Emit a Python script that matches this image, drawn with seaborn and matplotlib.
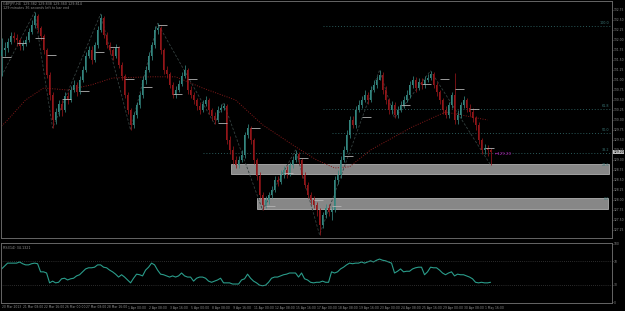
"""
H4 candle chart with zigzag, MA, zones and RSI sub-window (MT4 style)
"""
import numpy as np
import pandas as pd
import matplotlib
matplotlib.use('Agg')
import matplotlib.pyplot as plt
from matplotlib.patches import Rectangle
import seaborn as sns

# --- price data (one value per H4 bar) ---
first_open = 131.60
closes = [131.75, 131.80, 131.95, 132.10, 132.05, 132.00, 131.85, 131.90, 132.00, 132.20,
          132.38, 132.60, 132.30, 132.10, 131.75, 131.13, 130.63, 130.00, 130.20, 130.40,
          130.25, 130.60, 130.50, 130.75, 130.88, 130.70, 131.00, 131.25, 131.60, 131.75,
          131.50, 131.88, 132.25, 132.55, 132.13, 131.88, 131.75, 131.60, 131.80, 131.38,
          131.10, 130.63, 130.25, 129.88, 130.13, 130.38, 130.63, 131.00, 131.25, 131.60,
          131.88, 132.25, 132.30, 131.75, 131.25, 131.15, 130.88, 130.63, 130.75, 130.90,
          131.10, 131.25, 130.75, 130.63, 130.50, 130.35, 130.25, 130.40, 130.50, 130.25,
          130.10, 130.00, 130.25, 130.30, 130.35, 129.50, 129.25, 129.00, 128.88, 129.00,
          129.13, 129.63, 129.80, 129.50, 129.00, 128.60, 128.13, 127.88, 128.00, 128.13,
          128.25, 128.50, 128.45, 128.63, 128.75, 128.63, 128.88, 129.00, 129.15, 129.00,
          128.63, 128.38, 128.13, 128.00, 127.88, 127.75, 127.38, 127.63, 127.80, 127.70,
          127.75, 128.50, 128.63, 129.00, 129.25, 129.63, 130.00, 129.88, 130.25, 130.38,
          130.50, 130.63, 130.50, 130.75, 130.88, 131.00, 131.13, 130.75, 130.50, 130.25,
          130.38, 130.13, 130.25, 130.38, 130.50, 130.63, 130.88, 131.00, 130.80, 130.95,
          130.88, 131.00, 131.05, 131.15, 130.88, 130.70, 130.50, 130.25, 130.13, 130.38,
          130.63, 130.00, 130.13, 130.38, 130.50, 130.30, 130.20, 130.05, 129.88, 129.50,
          129.25, 129.30, 129.25, 129.20]
highs = [132.05, 131.95, 132.05, 132.20, 132.20, 132.15, 132.05, 132.00, 132.10, 132.30,
         132.50, 132.70, 132.65, 132.35, 132.15, 131.80, 131.20, 130.70, 130.30, 130.50,
         130.50, 130.70, 130.70, 130.85, 131.00, 130.95, 131.10, 131.35, 131.70, 131.85,
         131.85, 131.95, 132.35, 132.65, 132.60, 132.20, 131.95, 131.80, 131.90, 131.85,
         131.45, 131.15, 130.70, 130.30, 130.20, 130.45, 130.70, 131.10, 131.35, 131.70,
         131.95, 132.35, 132.42, 132.35, 131.80, 131.35, 131.20, 130.95, 130.85, 131.00,
         131.20, 131.38, 131.30, 130.85, 130.70, 130.55, 130.45, 130.50, 130.60, 130.55,
         130.30, 130.20, 130.35, 130.40, 130.43, 130.40, 129.60, 129.35, 129.10, 129.10,
         129.25, 129.70, 129.90, 129.85, 129.55, 129.05, 128.70, 128.20, 128.10, 128.20,
         128.35, 128.60, 128.60, 128.75, 128.85, 128.85, 128.95, 129.10, 129.25, 129.20,
         129.05, 128.70, 128.45, 128.20, 128.10, 127.95, 127.80, 127.70, 127.90, 127.90,
         127.85, 128.60, 128.75, 129.10, 129.35, 129.75, 130.10, 130.10, 130.35, 130.50,
         130.60, 130.75, 130.70, 130.85, 131.00, 131.10, 131.25, 131.20, 130.85, 130.55,
         130.48, 130.45, 130.35, 130.48, 130.60, 130.75, 130.98, 131.10, 131.08, 131.05,
         131.05, 131.10, 131.15, 131.23, 131.20, 130.95, 130.75, 130.55, 130.35, 130.45,
         130.70, 131.18, 130.25, 130.45, 130.60, 130.55, 130.40, 130.30, 130.10, 129.95,
         129.55, 129.40, 129.38, 129.30]
lows = [131.10, 131.60, 131.70, 131.90, 131.95, 131.85, 131.75, 131.75, 131.85, 131.95,
        132.15, 132.30, 132.20, 132.00, 131.65, 131.05, 130.50, 129.80, 129.90, 130.10,
        130.10, 130.20, 130.40, 130.45, 130.70, 130.60, 130.65, 130.95, 131.20, 131.55,
        131.40, 131.45, 131.80, 132.20, 132.05, 131.80, 131.65, 131.50, 131.55, 131.30,
        131.00, 130.55, 130.15, 129.75, 129.80, 130.05, 130.30, 130.55, 130.90, 131.20,
        131.50, 131.80, 132.15, 131.65, 131.15, 131.05, 130.80, 130.55, 130.55, 130.70,
        130.85, 131.05, 130.65, 130.55, 130.40, 130.25, 130.15, 130.20, 130.35, 130.15,
        130.00, 129.90, 129.95, 130.20, 130.25, 129.40, 129.15, 128.90, 128.80, 128.80,
        128.95, 129.05, 129.55, 129.40, 128.90, 128.50, 128.05, 127.75, 127.80, 127.90,
        128.05, 128.20, 128.35, 128.40, 128.55, 128.55, 128.60, 128.80, 128.95, 128.90,
        128.55, 128.30, 128.05, 127.90, 127.80, 127.60, 127.13, 127.30, 127.55, 127.60,
        127.50, 127.70, 128.40, 128.55, 128.95, 129.20, 129.55, 129.80, 129.80, 130.20,
        130.30, 130.45, 130.40, 130.45, 130.70, 130.80, 131.00, 130.65, 130.40, 130.15,
        130.15, 130.05, 130.05, 130.20, 130.30, 130.45, 130.55, 130.80, 130.70, 130.75,
        130.78, 130.80, 130.95, 131.00, 130.80, 130.60, 130.40, 130.15, 130.05, 130.05,
        130.30, 129.90, 129.90, 130.05, 130.30, 130.20, 130.10, 129.95, 129.75, 129.40,
        129.15, 129.15, 129.10, 128.88]

# RSI(14) values per bar
rsi = [57, 62, 67, 67, 67, 67, 69, 66, 64, 64,
       66, 67, 66, 52, 52, 50, 33, 36, 33, 34,
       40, 41, 38, 40, 41, 45, 47, 52, 57, 59,
       59, 60, 64, 64, 60, 59, 55, 52, 48, 43,
       47, 43, 38, 33, 41, 48, 47, 45, 55, 60,
       67, 64, 55, 48, 47, 45, 43, 45, 43, 45,
       50, 45, 43, 43, 36, 41, 43, 43, 41, 36,
       34, 36, 38, 41, 33, 33, 33, 31, 31, 31,
       38, 40, 48, 41, 36, 33, 29, 28, 29, 34,
       41, 43, 43, 45, 47, 48, 50, 50, 50, 43,
       50, 40, 38, 34, 33, 34, 34, 36, 34, 34,
       52, 50, 52, 57, 60, 64, 67, 66, 67, 67,
       69, 67, 69, 71, 69, 72, 74, 72, 71, 69,
       67, 50, 53, 57, 52, 53, 53, 57, 59, 60,
       60, 47, 52, 60, 59, 59, 55, 50, 47, 50,
       52, 45, 48, 47, 47, 45, 43, 40, 34, 33,
       34, 33, 33, 34]

# moving average (dotted red), read at a few bars
ma_idx = [0, 2, 8, 14, 22, 30, 37, 50, 58, 67, 78, 87, 98, 105, 111, 116, 123, 137, 148, 162]
ma_val = [129.85, 130.00, 130.50, 130.80, 130.75, 130.88, 131.05, 131.08, 131.08, 130.80,
          130.50, 129.88, 129.33, 129.00, 128.80, 128.83, 129.25, 129.83, 130.20, 130.00]

# zigzag swing points
zz_idx = [0, 11, 17, 33, 43, 52, 71, 74, 87, 98, 106, 126, 131, 143, 163]
zz_val = [131.10, 132.70, 129.80, 132.65, 129.75, 132.42, 129.90, 130.43, 127.75, 129.25,
          127.13, 131.25, 130.05, 131.23, 128.88]

# short white level tags
tag_idx = [0, 5, 11, 15, 20, 26, 31, 36, 41, 47, 52, 57, 62, 72, 83, 88, 94, 99, 104,
           110, 114, 120, 133, 140, 146, 151, 156, 161]
tag_val = [131.58, 131.93, 132.05, 131.63, 130.53, 130.73, 131.70, 131.83, 131.03, 130.83,
           132.38, 130.65, 131.03, 129.93, 129.80, 127.85, 128.68, 129.05, 128.00,
           127.85, 129.10, 130.08, 130.38, 130.90, 131.03, 130.78, 130.28, 129.30]

# grey supply/demand zones
zone_x0 = [76.5, 85.2]
zone_x1 = [202.5, 202.0]
zone_lo = [128.65, 127.78]
zone_hi = [128.90, 128.05]

# fib levels
fib_val = [132.35, 130.28, 129.68, 129.18]
fib_start = [107, 107, 110, 67]
fib_lab = ['100.0', '61.8', '50.0', '38.2']
zone_lab = ['23.6', '0.0']

price_ticks = [127.25, 127.50, 127.75, 128.00, 128.25, 128.50, 128.75, 129.00,
               129.25, 129.50, 129.75, 130.00, 130.25, 130.50, 130.75, 131.00,
               131.25, 131.50, 131.75, 132.00, 132.25, 132.50, 132.75]
time_labels = ['20 Mar 2013', '21 Mar 08:00', '22 Mar 16:00', '26 Mar 00:00', '27 Mar 08:00',
               '28 Mar 16:00', '1 Apr 00:00', '2 Apr 08:00', '3 Apr 16:00', '5 Apr 00:00',
               '8 Apr 08:00', '9 Apr 16:00', '11 Apr 00:00', '12 Apr 08:00', '15 Apr 16:00',
               '17 Apr 00:00', '18 Apr 08:00', '19 Apr 16:00', '23 Apr 00:00', '24 Apr 08:00',
               '25 Apr 16:00', '29 Apr 00:00', '30 Apr 08:00', '1 May 16:00']
rsi_levels = [70, 30]

sns.set_style('dark', {'axes.facecolor': 'black', 'figure.facecolor': 'black'})
plt.rcParams['font.family'] = ['DejaVu Sans']

txt = '#8e8e8e'
frame = '#666666'
bull = '#34867f'
bear = '#931619'
small = 2.4
axis_fs = 2.2

df = pd.DataFrame({'bar': np.arange(len(closes)), 'close': closes, 'high': highs,
                   'low': lows, 'rsi': rsi})
df['open'] = [first_open] + closes[:-1]

fig = plt.figure(figsize=(6.25, 3.11), dpi=100, facecolor='black')
ax = fig.add_axes([1 / 625, 73 / 311, 611 / 625, 237 / 311])
ax2 = fig.add_axes([1 / 625, 8 / 311, 611 / 625, 60 / 311])

# zones first so candles sit on top
for x0, x1, lo, hi in zip(zone_x0, zone_x1, zone_lo, zone_hi):
    ax.add_patch(Rectangle((x0, lo), x1 - x0, hi - lo, facecolor='#878787',
                           edgecolor='#b0b0b0', lw=0.6, zorder=1))

# fib lines
for v, s, lab in zip(fib_val, fib_start, fib_lab):
    ax.hlines(v, s, 203.5, color='#2a5a5a', lw=0.7, linestyles=(0, (1, 2)), zorder=1)
    ax.text(202.5, v + 0.03, lab, color='#3a7878', fontsize=small, ha='right', va='bottom')
for v, lab in zip([zone_hi[0], zone_hi[1]], zone_lab):
    ax.text(202.5, v - 0.08, lab, color='#3a7878', fontsize=small, ha='right', va='bottom')

# moving average and zigzag
sns.lineplot(x=ma_idx, y=ma_val, ax=ax, color='#861a1a', lw=0.7, linestyle=(0, (1, 1.5)),
             zorder=2)
sns.lineplot(x=zz_idx, y=zz_val, ax=ax, color='#34403f', lw=0.6, linestyle=(0, (3, 2)),
             zorder=2, sort=False)

# candles
up = df['close'] >= df['open']
cols = np.where(up, bull, bear)
ax.vlines(df['bar'], df['low'], df['high'], colors=cols, lw=0.55, zorder=3)
body = np.maximum((df['close'] - df['open']).abs(), 0.015)
ax.bar(df['bar'], body, bottom=np.minimum(df['open'], df['close']), width=0.6,
       color=cols, linewidth=0, zorder=4)

# tags
ax.hlines(tag_val, np.array(tag_idx), np.array(tag_idx) + 3.3, color='#b4b4b4', lw=0.6,
          zorder=5)

last = closes[-1]
ax.text(len(closes) + 0.6, last - 0.04, '\u2190%.2f' % last, color='#c020c0', fontsize=2.8,
        va='center')

ax.set_xlim(-0.2, 203.5)
ax.set_ylim(127.05, 132.975)
ax.yaxis.tick_right()
ax.set_yticks(price_ticks)
ax.set_yticklabels(['%.2f' % t for t in price_ticks])
ax.tick_params(axis='y', colors=txt, labelsize=axis_fs, length=1.0, width=0.4, pad=0.5)
ax.set_xticks([])
ax.text(0.003, 0.997, 'GBPJPY,H4  129.382 129.838 129.360 129.814',
        transform=ax.transAxes, color=txt, fontsize=small, va='top')
ax.text(0.003, 0.978, '129 minutes 36 seconds left to bar end',
        transform=ax.transAxes, color=txt, fontsize=small, va='top')
ax.text(1.0025, last, '%.2f' % last, transform=ax.get_yaxis_transform(), color='black',
        fontsize=axis_fs, va='center', bbox=dict(fc='#c0c0c0', ec='none', pad=0.25))

# RSI window
sns.lineplot(data=df, x='bar', y='rsi', ax=ax2, color='#2a9c8a', lw=0.8)
ax2.hlines(rsi_levels, -0.2, 203.5, color='#555555', lw=0.5, linestyles=(0, (1, 2)))
ax2.set_xlim(-0.2, 203.5)
ax2.set_ylim(-1.7, 101.7)
ax2.yaxis.tick_right()
ax2.set_yticks([0, 30, 70, 100])
ax2.set_yticklabels(['0', '30', '70', '100'])
ax2.tick_params(axis='y', colors=txt, labelsize=axis_fs, length=1.0, width=0.4, pad=0.5)
tick_pos = np.arange(len(time_labels)) * 7
ax2.set_xticks(tick_pos)
ax2.set_xticklabels(time_labels, ha='left')
ax2.tick_params(axis='x', colors=txt, labelsize=2.2, length=1.2, width=0.4, pad=0.6)
ax2.text(0.004, 0.95, 'RSI(14) 34.1321', transform=ax2.transAxes, color=txt, fontsize=small,
         va='top')

for a in (ax, ax2):
    a.set_xlabel('')
    a.set_ylabel('')
    a.grid(False)
    for sp in a.spines.values():
        sp.set_color(frame)
        sp.set_linewidth(0.7)

fig.savefig('out.png', dpi=100, facecolor='black')
